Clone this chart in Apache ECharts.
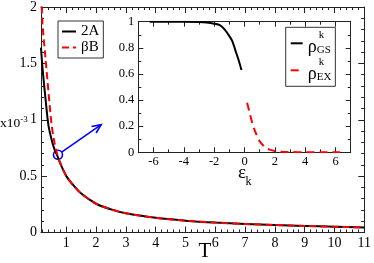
<!DOCTYPE html>
<html><head><meta charset="utf-8">
<script src="https://cdn.jsdelivr.net/npm/echarts@6/dist/echarts.min.js"></script>
<style>html,body{margin:0;padding:0;background:#fff}#c{width:374px;height:263px}</style>
</head><body><div id="c"></div>
<script>
// ---- main plot data ----
const T      = [0.15,0.2,0.3,0.4,0.5,0.6,0.7,0.8,1.0,1.2,1.5,2,2.5,3,4,5,6,7,8,9,10,11];
const twoA   = [1.64,1.46,1.19,0.95,0.83,0.74,0.68,0.61,0.50,0.43,0.345,0.255,0.205,0.17,0.13,0.105,0.088,0.076,0.066,0.058,0.051,0.045];
const betaB  = [2.20,1.85,1.55,1.25,0.97,0.80,0.69,0.615,0.50,0.43,0.345,0.255,0.205,0.17,0.13,0.105,0.088,0.076,0.066,0.058,0.051,0.045];
// ---- inset data ----
const epsGS  = [-6.25,-5,-4,-3,-2.5,-2,-1.6,-1.3,-1.0,-0.8,-0.6,-0.4,-0.2];
const rhoGS  = [1,1,1,0.998,0.994,0.985,0.972,0.94,0.89,0.85,0.78,0.71,0.63];
const epsEX  = [0.17,0.3,0.5,0.7,1.0,1.3,1.6,2.0,2.5,3,4,5,6.3];
const rhoEX  = [0.38,0.32,0.23,0.16,0.085,0.045,0.022,0.01,0.004,0.002,0.0005,0,0];
// ---- ticks ----
const mainXMajor = [1,2,3,4,5,6,7,8,9,10,11];
const mainXMinor = [0.2,0.4,0.6,0.8,1.2,1.4,1.6,1.8,2.2,2.4,2.6,2.8,3.2,3.4,3.6,3.8,4.2,4.4,4.6,4.8,5.2,5.4,5.6,5.8,6.2,6.4,6.6,6.8,7.2,7.4,7.6,7.8,8.2,8.4,8.6,8.8,9.2,9.4,9.6,9.8,10.2,10.4,10.6,10.8];
const mainYMajor = [0,0.5,1,1.5,2];
const mainYMinor = [0.1,0.2,0.3,0.4,0.6,0.7,0.8,0.9,1.1,1.2,1.3,1.4,1.6,1.7,1.8,1.9];
const insXMajor = [-6,-4,-2,0,2,4,6];
const insXMinor = [-7,-5,-3,-1,1,3,5,7];
const insYMajor = [0,0.2,0.4,0.6,0.8,1];
const insYMinor = [0.1,0.3,0.5,0.7,0.9];
// ---- annotation (data coords) ----
const circlePt = [0.72, 0.69];
const arrowTip = [2.17, 0.957];

const FONT = 'Liberation Serif';
const AX = '#222';

function axes(dim, grid, min, max, major, minor, posA, posB, fs, margin, majLen, minLen) {
  const base = {type:'value', gridIndex:grid, min:min, max:max, splitLine:{show:false}};
  const lab = {show:true, customValues:major, color:'#000', fontFamily:FONT, fontSize:fs, margin:margin};
  const out = [];
  [posA,posB].forEach((p,i)=>{
    out.push(Object.assign({}, base, {position:p,
      axisLine:{show:true, onZero:false, lineStyle:{color:AX, width:1}},
      axisTick:{show:true, inside:true, length:majLen, customValues:major, lineStyle:{color:AX}},
      axisLabel: i===0 ? lab : {show:false}}));
    out.push(Object.assign({}, base, {position:p,
      axisLine:{show:false, onZero:false},
      axisTick:{show:true, inside:true, length:minLen, customValues:minor, lineStyle:{color:AX}},
      axisLabel:{show:false}}));
  });
  return out;
}

const xAxes = axes('x',0,0.15,11,mainXMajor,mainXMinor,'bottom','top',14,4,6,3)
  .concat(axes('x',1,-7,7,insXMajor,insXMinor,'bottom','top',12.5,3,5,3));
const yAxes = axes('y',0,0,2,mainYMajor,mainYMinor,'left','right',14,4,6,3)
  .concat(axes('y',1,0,1,insYMajor,insYMinor,'left','right',12.5,4,5,3));

const noSym = {color:'rgba(0,0,0,0)', borderWidth:0, opacity:0};

const chart = echarts.init(document.getElementById('c'), null, {renderer:'canvas'});
chart.setOption({
  animation:false,
  backgroundColor:'#fff',
  grid:[
    {left:41, right:7, top:6, bottom:30.5},
    {left:138.3, right:23.3, top:21.7, bottom:110.7, show:true, backgroundColor:'#fff', borderWidth:0}
  ],
  xAxis:xAxes,
  yAxis:yAxes,
  legend:[
    {data:['2A','βB'], orient:'vertical', left:58, top:21, borderColor:'#333', borderWidth:1,
     padding:[3,4,3,3], itemWidth:14, itemHeight:12, itemGap:1, itemStyle:noSym,
     textStyle:{fontFamily:FONT, fontSize:15, color:'#000', lineHeight:13}},
    {data:['GS','EX'], orient:'vertical', left:285.7, top:27.3, borderColor:'#333', borderWidth:1,
     padding:[2,4,3,4], itemWidth:12, itemHeight:12, itemGap:0, itemStyle:noSym,
     formatter: n => '{k|k}\n{p|ρ}{s|' + n + '}',
     textStyle:{fontFamily:FONT, color:'#000',
       rich:{k:{fontSize:11, lineHeight:8, padding:[0,0,0,11], fontFamily:FONT},
             p:{fontSize:18, lineHeight:16, fontFamily:FONT},
             s:{fontSize:11, lineHeight:17, verticalAlign:'bottom', fontFamily:FONT}}}}
  ],
  graphic:[
    {type:'text', left:0, top:115, style:{text:'{a|x10}{b|-3}', fill:'#000',
      rich:{a:{fontFamily:FONT, fontSize:13.5}, b:{fontFamily:FONT, fontSize:9, padding:[0,0,8,0]}}}},
    {type:'text', x:205, y:251, style:{text:'T', fontFamily:FONT, fontSize:21, fill:'#000', align:'center', verticalAlign:'middle'}},
    {type:'text', x:242, y:173, style:{text:'ε', fontFamily:FONT, fontSize:19, fill:'#000', align:'center', verticalAlign:'middle'}},
    {type:'text', x:248.5, y:181.5, style:{text:'k', fontFamily:FONT, fontSize:12, fill:'#000', align:'center', verticalAlign:'middle'}}
  ],
  series:[
    {name:'2A', type:'line', xAxisIndex:0, yAxisIndex:0, symbol:'none', smooth:0.3, clip:true,
     data:T.map((t,i)=>[t,twoA[i]]), lineStyle:{color:'#000', width:2}, itemStyle:{color:'#000'}},
    {name:'βB', type:'line', xAxisIndex:0, yAxisIndex:0, symbol:'none', smooth:0.3, clip:true,
     data:T.map((t,i)=>[t,betaB[i]]), lineStyle:{color:'#f00', width:2, type:[7,4]}, itemStyle:{color:'#f00'}},
    {type:'custom', xAxisIndex:0, yAxisIndex:0, silent:true, clip:false,
     data:[[circlePt[0],circlePt[1],arrowTip[0],arrowTip[1]]],
     renderItem:(params, api)=>{
       const p0 = api.coord([api.value(0),api.value(1)]);
       const p1 = api.coord([api.value(2),api.value(3)]);
       const dx=p1[0]-p0[0], dy=p1[1]-p0[1], L=Math.hypot(dx,dy), ux=dx/L, uy=dy/L;
       const r=4.5, h=9, w=4;
       const bx=p1[0]-ux*h, by=p1[1]-uy*h;
       const st={stroke:'#0000ff', lineWidth:1.6, fill:null};
       return {type:'group', children:[
         {type:'circle', shape:{cx:p0[0], cy:p0[1], r:r}, style:st},
         {type:'line', shape:{x1:p0[0]+ux*r, y1:p0[1]+uy*r, x2:p1[0], y2:p1[1]}, style:st},
         {type:'polyline', shape:{points:[[bx-uy*w,by+ux*w],[p1[0],p1[1]],[bx+uy*w,by-ux*w]]}, style:st}
       ]};
     }},
    {name:'GS', type:'line', xAxisIndex:4, yAxisIndex:4, symbol:'none', smooth:0.3,
     data:epsGS.map((e,i)=>[e,rhoGS[i]]), lineStyle:{color:'#000', width:2}, itemStyle:{color:'#000'}},
    {name:'EX', type:'line', xAxisIndex:4, yAxisIndex:4, symbol:'none', smooth:0.3,
     data:epsEX.map((e,i)=>[e,rhoEX[i]]), lineStyle:{color:'#f00', width:2, type:[8,5]}, itemStyle:{color:'#f00'}}
  ]
});
</script></body></html>
